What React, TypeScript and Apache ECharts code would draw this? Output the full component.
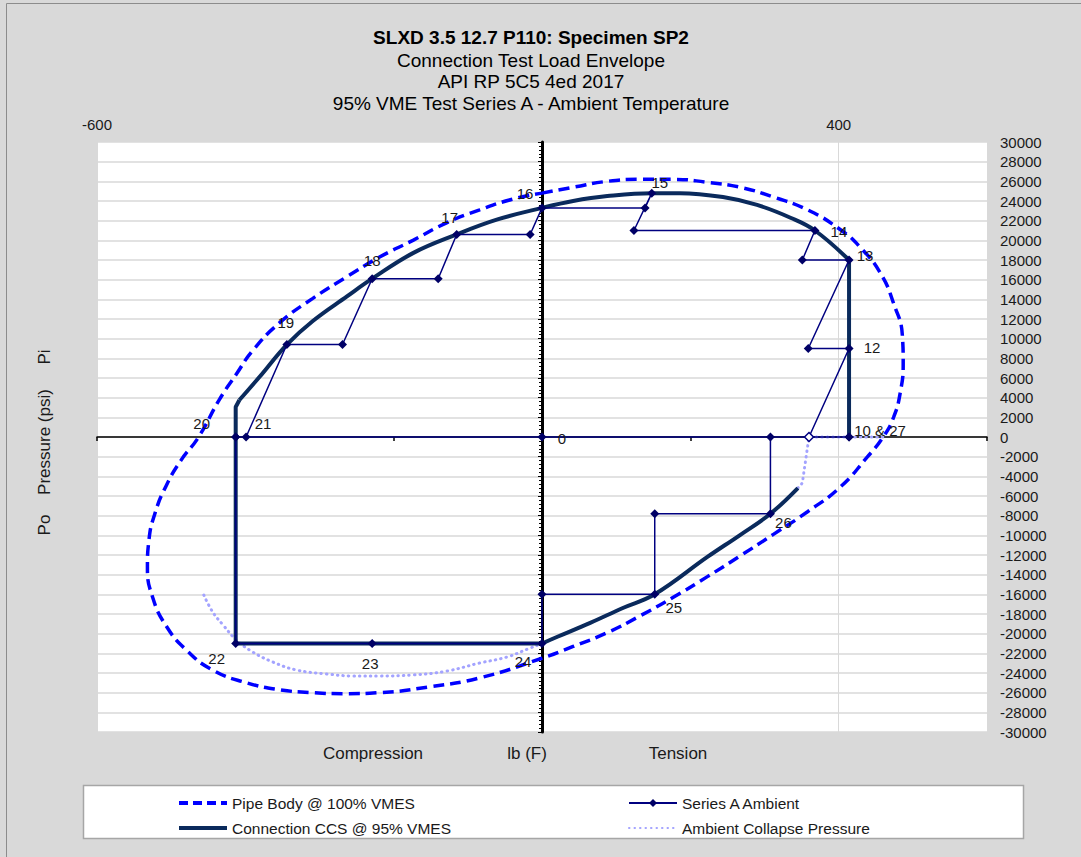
import React, { useEffect, useRef } from "react";
import * as echarts from "echarts";

// ---------- DATA ----------
const TITLE_LINES = [
  "SLXD 3.5 12.7 P110: Specimen SP2",
  "Connection Test Load Envelope",
  "API RP 5C5 4ed 2017",
  "95% VME Test Series A - Ambient Temperature",
];

const X_MIN = -600;
const X_MAX = 600;
const Y_MIN = -30000;
const Y_MAX = 30000;

// Pipe Body @ 100% VMES (closed ellipse, [lb(F), psi])
const pipeBodyPoints: [number, number][] = [
  [0, 24800], [42, 25400], [88, 26000], [132, 26200], [177, 26200], [223, 25900],
  [267, 25400], [312, 24400], [358, 23100], [402, 21100], [429, 19300], [456, 16700],
  [474, 13600], [486, 10200], [487, 7500], [483, 4500], [474, 2000], [460, 0],
  [439, -2000], [402, -5100], [358, -7600], [312, -9900], [267, -12100], [223, -14200],
  [177, -16300], [132, -18200], [88, -19900], [42, -21300], [0, -22500], [-84, -24500],
  [-151, -25400], [-219, -26000], [-263, -26100], [-309, -26000], [-354, -25700],
  [-398, -25000], [-444, -23700], [-479, -21700], [-506, -19300], [-525, -16300],
  [-532, -13200], [-530, -10500], [-522, -7800], [-507, -5000], [-487, -2400], [-463, 0],
  [-435, 3800], [-412, 6400], [-390, 8800], [-354, 11600], [-309, 14100],
  [-263, 16300], [-219, 18300], [-174, 20000], [-128, 21800], [-84, 23100], [-39, 24200],
  [0, 24800],
];

// Connection CCS @ 95% VMES
const ccsUpperCurve: [number, number][] = [
  [-408, 3760], [-381, 6100], [-344, 9400], [-309, 11800], [-263, 14300], [-229, 16100],
  [-174, 18700], [-115, 20600], [-61, 22100], [0, 23300], [42, 24000], [88, 24500],
  [148, 24800], [186, 24800], [244, 24400], [290, 23600], [335, 22300], [368, 21000],
  [414, 18000],
];
const ccsRightEdge: [number, number][] = [[414, 18000], [414, 0]];
const ccsLeftEdge: [number, number][] = [[-408, 3760], [-413, 3050], [-413, -21000], [0, -21000]];
const ccsLowerCurve: [number, number][] = [
  [0, -21000], [20, -20340], [65, -18900], [109, -17390], [152, -16000], [223, -12200],
  [267, -9970], [308, -7800], [345, -5190],
];

// Ambient Collapse Pressure
const collapseCurve: [number, number][] = [
  [-456, -16070], [-444, -17800], [-430, -19120], [-412, -20650], [-390, -21870],
  [-363, -22880], [-331, -23700], [-290, -24100], [-255, -24300], [-219, -24300],
  [-174, -24200], [-128, -23800], [-84, -22980], [-47, -22370], [-16, -21460],
  [0, -21000], [20, -20340], [65, -18900], [109, -17390], [152, -16000], [223, -12200],
  [267, -9970], [308, -7800], [345, -5190],
];
const collapseTail: [number, number][] = [[345, -5190], [351, -4680], [360, 0], [460, 0]];

// Series A Ambient (load path)
const seriesAPoints: [number, number][] = [
  [-413, 0], [0, 0], [414, 0], [360, 0], [414, 9000], [359, 9000], [414, 18000],
  [351, 18000], [368, 21000], [124, 21000], [148, 24800], [139, 23300], [0, 23300],
  [-16, 20600], [-115, 20600], [-140, 16100], [-229, 16100], [-269, 9400], [-344, 9400],
  [-399, 0], [-413, 0], [-413, -21000], [-229, -21000], [0, -21000], [0, -16000],
  [152, -16000], [152, -7800], [308, -7800], [308, 0], [414, 0],
];
const seriesALabels: string[] = [
  "", "0", "10 & 27", "", "12", "", "13", "", "14", "", "15", "", "16", "", "17", "",
  "18", "", "19", "21", "20", "22", "23", "24", "", "25", "", "26", "", "",
];
const HOLLOW_INDEX = 3;

const AXIS_NAMES = ["Compression", "lb (F)", "Tension"];
const VERTICAL_NAMES = ["Pi", "Pressure (psi)", "Po"];
const LEGEND_LEFT = ["Pipe Body @ 100% VMES", "Connection CCS @ 95% VMES"];
const LEGEND_RIGHT = ["Series A Ambient", "Ambient Collapse Pressure"];

// ---------- STYLE ----------
const FONT = "'Liberation Sans', Arial, sans-serif";
const TEXT_COLOR = "#1a1a1a";
const LABEL_OFFSETS: Record<string, [number, number]> = {
  "0": [20, 1],
  "10 & 27": [31, -7],
  "12": [23, -1],
  "13": [16, -5],
  "14": [24, 1],
  "15": [8, -11],
  "16": [-17, -14],
  "17": [-7, -17],
  "18": [0, -18],
  "19": [-1, -22],
  "20": [-34, -14],
  "21": [17, -14],
  "22": [-19, 15],
  "23": [-2, 20],
  "24": [-19, 18],
  "25": [19, 13],
  "26": [13, 9],
};

export default function App() {
  const ref = useRef<HTMLDivElement>(null);

  useEffect(() => {
    if (!ref.current) return;
    const chart = echarts.init(ref.current, null, { renderer: "svg" });

    const seriesAData = seriesAPoints.map((p, i) => {
      const lbl = seriesALabels[i];
      const item: any = { value: p };
      if (lbl) {
        item.label = {
          show: true,
          formatter: lbl,
          position: "inside",
          offset: LABEL_OFFSETS[lbl] || [0, 0],
        };
      }
      if (i === HOLLOW_INDEX) {
        item.itemStyle = { color: "#ffffff", borderColor: "#000080", borderWidth: 1.5 };
      }
      return item;
    });

    const pipeStyle = { color: "#0000ff", width: 3.5, type: [11, 6] as any };
    const ccsStyle = { color: "#0a2a5c", width: 4 };
    const collapseStyle = { color: "#a3a3ff", width: 3, type: [0.5, 5] as any, cap: "round" as any };
    const noSymbol = { opacity: 0 };

    const titleGraphics = TITLE_LINES.map((t, i) => ({
      type: "text",
      x: 531,
      y: [37, 60, 81, 103][i],
      z: 10,
      style: {
        text: t,
        fontFamily: FONT,
        fontSize: 19,
        fontWeight: i === 0 ? "bold" : "normal",
        fill: "#000",
        textAlign: "center",
        textVerticalAlign: "middle",
      },
    }));

    const axisNameGraphics = AXIS_NAMES.map((t, i) => ({
      type: "text",
      x: [373, 527, 678][i],
      y: 753,
      z: 10,
      style: {
        text: t,
        fontFamily: FONT,
        fontSize: 17,
        fill: TEXT_COLOR,
        textAlign: "center",
        textVerticalAlign: "middle",
      },
    }));

    const verticalGraphics = VERTICAL_NAMES.map((t, i) => ({
      type: "text",
      x: 44,
      y: [357, 442, 525][i],
      rotation: Math.PI / 2,
      z: 10,
      style: {
        text: t,
        fontFamily: FONT,
        fontSize: 17,
        fill: TEXT_COLOR,
        textAlign: "center",
        textVerticalAlign: "middle",
      },
    }));

    const legendText = { fontSize: 15.5, color: TEXT_COLOR, fontFamily: FONT };

    const option: any = {
      animation: false,
      backgroundColor: "#d9d9d9",
      textStyle: { fontFamily: FONT },
      grid: {
        left: 97,
        right: 94,
        top: 142,
        bottom: 125,
        show: true,
        backgroundColor: "#ffffff",
        borderWidth: 0,
      },
      xAxis: [
        {
          type: "value",
          position: "top",
          min: X_MIN,
          max: X_MAX,
          interval: 1000,
          axisLine: { show: false },
          axisTick: { show: false },
          axisLabel: { show: true, margin: 10, fontSize: 15, color: TEXT_COLOR, fontFamily: FONT, showMaxLabel: false },
          splitLine: { show: true, lineStyle: { color: "#d9d9d9", width: 1 } },
        },
        {
          type: "value",
          position: "bottom",
          min: X_MIN,
          max: X_MAX,
          interval: 400,
          axisLine: { show: true, onZero: true, lineStyle: { color: "#000", width: 1.5 } },
          axisTick: { show: true, length: 4, lineStyle: { color: "#000", width: 1.5 } },
          axisLabel: { show: false },
          splitLine: { show: false },
        },
      ],
      yAxis: [
        {
          type: "value",
          position: "right",
          min: Y_MIN,
          max: Y_MAX,
          interval: 2000,
          axisLine: { show: false },
          axisTick: { show: false },
          axisLabel: {
            show: true,
            margin: 13,
            fontSize: 15,
            color: TEXT_COLOR,
            fontFamily: FONT,
            formatter: (v: number) => String(v),
          },
          splitLine: { show: true, lineStyle: { color: "#d9d9d9", width: 1.5 } },
        },
        {
          type: "value",
          position: "left",
          min: Y_MIN,
          max: Y_MAX,
          interval: 2000,
          axisLine: { show: true, onZero: true, lineStyle: { color: "#000", width: 3 } },
          axisTick: { show: true, length: 4, inside: false, lineStyle: { color: "#000", width: 1 } },
          minorTick: { show: true, splitNumber: 5, length: 3, lineStyle: { color: "#000", width: 1 } },
          axisLabel: { show: false },
          splitLine: { show: false },
        },
      ],
      legend: [
        {
          left: 172,
          top: 790,
          orient: "vertical",
          itemWidth: 48,
          itemHeight: 10,
          itemGap: 9,
          z: 20,
          textStyle: legendText,
          data: [
            { name: LEGEND_LEFT[0], itemStyle: noSymbol, lineStyle: { width: 4, type: [9, 5] } },
            { name: LEGEND_LEFT[1], itemStyle: noSymbol, lineStyle: { width: 4 } },
          ],
        },
        {
          left: 623,
          top: 790,
          orient: "vertical",
          itemWidth: 48,
          itemHeight: 10,
          itemGap: 9,
          z: 20,
          textStyle: legendText,
          data: [
            { name: LEGEND_RIGHT[0] },
            { name: LEGEND_RIGHT[1], itemStyle: noSymbol },
          ],
        },
      ],
      graphic: [
        {
          type: "rect",
          z: 1,
          silent: true,
          shape: { x: 6.5, y: 3.5, width: 1090, height: 870 },
          style: { fill: "none", stroke: "#8c8c8c", lineWidth: 1 },
        },
        {
          type: "rect",
          z: 1,
          silent: true,
          shape: { x: 83.5, y: 785.5, width: 940, height: 53 },
          style: { fill: "#ffffff", stroke: "#a6a6a6", lineWidth: 1.5 },
        },
        ...titleGraphics,
        ...axisNameGraphics,
        ...verticalGraphics,
      ],
      series: [
        {
          name: LEGEND_LEFT[0],
          type: "line",
          data: pipeBodyPoints,
          smooth: 0.5,
          symbol: "none",
          z: 2,
          lineStyle: pipeStyle,
          itemStyle: { color: "#0000ff" },
        },
        {
          name: LEGEND_LEFT[1],
          type: "line",
          data: ccsUpperCurve,
          smooth: 0.4,
          symbol: "none",
          z: 4,
          lineStyle: ccsStyle,
          itemStyle: { color: "#0a2a5c" },
        },
        {
          name: LEGEND_LEFT[1],
          type: "line",
          data: ccsRightEdge,
          symbol: "none",
          z: 4,
          lineStyle: ccsStyle,
          itemStyle: { color: "#0a2a5c" },
        },
        {
          name: LEGEND_LEFT[1],
          type: "line",
          data: ccsLeftEdge,
          symbol: "none",
          z: 4,
          lineStyle: ccsStyle,
          itemStyle: { color: "#0a2a5c" },
        },
        {
          name: LEGEND_LEFT[1],
          type: "line",
          data: ccsLowerCurve,
          smooth: 0.4,
          symbol: "none",
          z: 4,
          lineStyle: ccsStyle,
          itemStyle: { color: "#0a2a5c" },
        },
        {
          name: LEGEND_RIGHT[1],
          type: "line",
          data: collapseCurve,
          smooth: 0.4,
          symbol: "none",
          z: 3,
          lineStyle: collapseStyle,
          itemStyle: { color: "#a3a3ff" },
        },
        {
          name: LEGEND_RIGHT[1],
          type: "line",
          data: collapseTail,
          symbol: "none",
          z: 3,
          lineStyle: collapseStyle,
          itemStyle: { color: "#a3a3ff" },
        },
        {
          name: LEGEND_RIGHT[0],
          type: "line",
          data: seriesAData,
          symbol: "diamond",
          symbolSize: 9,
          showSymbol: true,
          showAllSymbol: true,
          z: 5,
          lineStyle: { color: "#000080", width: 1.5 },
          itemStyle: { color: "#000066" },
          label: {
            show: false,
            fontSize: 15,
            color: TEXT_COLOR,
            fontFamily: FONT,
          },
          emphasis: { disabled: true },
        },
      ],
    };

    chart.setOption(option);
    return () => chart.dispose();
  }, []);

  return (
    <div
      ref={ref}
      style={{ position: "absolute", left: 0, top: 0, width: 1081, height: 857 }}
    />
  );
}
